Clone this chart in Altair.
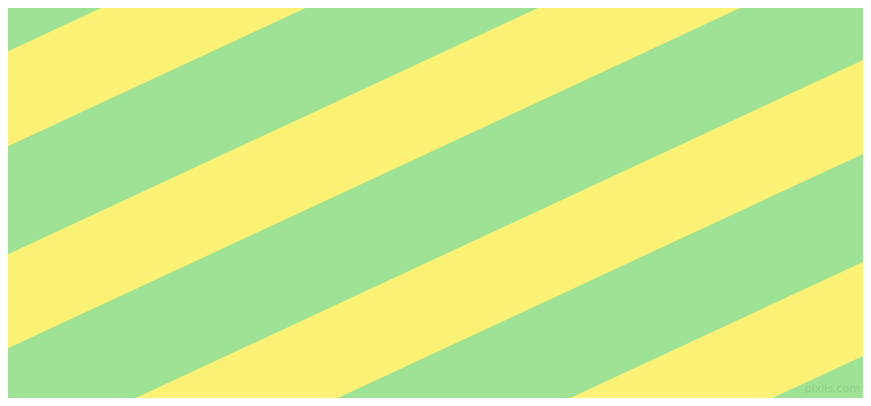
import altair as alt
import pandas as pd

# Diagonal stripe pattern: boundaries are lines y = c - slope * x (pixel coords, y down)
slope = 0.4648
band_starts = [55, 258, 461, 663]     # intercepts (at x=0) where yellow bands begin
band_ends = [150, 352, 555, 757]      # intercepts where yellow bands end
x_edges = [0, 871]
green = "#9EE295"
yellow = "#FBF174"
watermark = ["pixlis.com"]

rows = []
for i, (c1, c2) in enumerate(zip(band_starts, band_ends)):
    for x in x_edges:
        rows.append({"band": i, "x": x, "top": c1 - slope * x, "bottom": c2 - slope * x})
df = pd.DataFrame(rows)

xs = alt.Scale(domain=[8, 863], nice=False, zero=False)
ys = alt.Scale(domain=[8, 398], nice=False, zero=False, reverse=True)

bands = alt.Chart(df).mark_area(color=yellow, clip=True, opacity=1).encode(
    x=alt.X("x:Q", scale=xs, axis=None),
    y=alt.Y("top:Q", scale=ys, axis=None),
    y2="bottom:Q",
    detail="band:N",
)

wm = alt.Chart(pd.DataFrame({"t": watermark, "x": [860], "y": [389]})).mark_text(
    align="right", baseline="middle", fontSize=11, font="DejaVu Sans",
    color="#8CCB84", opacity=0.8,
).encode(x=alt.X("x:Q", scale=xs, axis=None), y=alt.Y("y:Q", scale=ys, axis=None), text="t:N")

chart = alt.layer(bands, wm).properties(
    width=855, height=390, background=green, padding=0,
    autosize=alt.AutoSizeParams(type="none"),
).configure_view(stroke=None, fill=green)

chart.save("out.html", embed_options={"renderer": "svg", "actions": False})
